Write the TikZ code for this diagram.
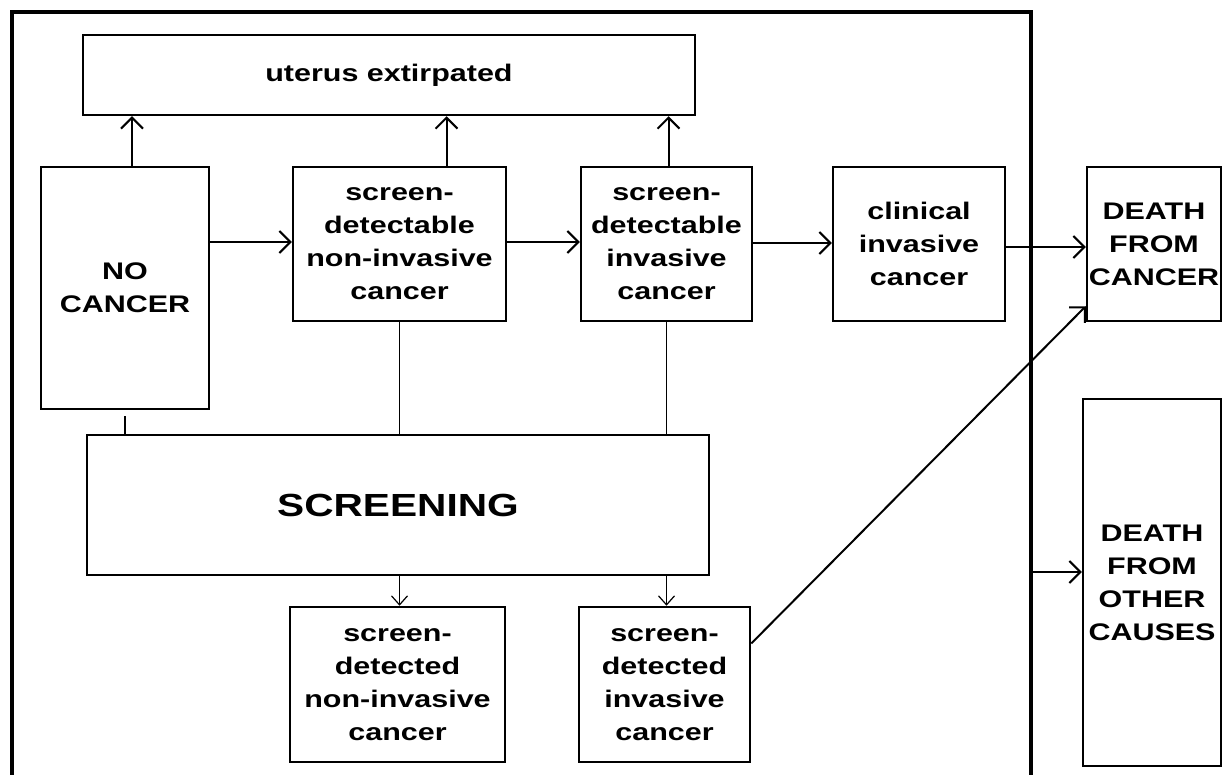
\documentclass[tikz,border=0pt]{standalone}
\usepackage{fontspec}
\newfontfamily\boxfont{Liberation Sans}[UprightFont=* Bold, FakeStretch=1.27]
\usetikzlibrary{arrows.meta}
\begin{document}
\begin{tikzpicture}[x=1pt,y=-1pt,
  box/.style={draw, line width=2.5pt, rectangle, inner sep=0pt, align=center,
    font=\boxfont\fontsize{24}{33}\selectfont},
  arr/.style={line width=2pt, -{Straight Barb[length=11pt,width=22pt,line width=2pt]}},
  thinarr/.style={line width=1.2pt, -{Straight Barb[length=9pt,width=16pt,line width=1.2pt]}},
  thinline/.style={line width=1.2pt},
  frame/.style={line width=4pt}]
\useasboundingbox (0,0) rectangle (1223,775);

\node[box, minimum width=612pt, minimum height=80pt] (ut) at (389,75) {uterus extirpated};
\node[box, minimum width=168pt, minimum height=242pt] (nc) at (125,288) {NO\\CANCER};
\node[box, minimum width=213pt, minimum height=154pt] (sdn) at (399.5,244) {screen-\\detectable\\non-invasive\\cancer};
\node[box, minimum width=171pt, minimum height=154pt] (sdv) at (666.5,244) {screen-\\detectable\\invasive\\cancer};
\node[box, minimum width=172pt, minimum height=154pt] (cl) at (919,244) {clinical\\invasive\\cancer};
\node[box, minimum width=134pt, minimum height=154pt] (dc) at (1154,244) {DEATH\\FROM\\CANCER};
\node[box, minimum width=138pt, minimum height=367pt] (do) at (1152,582.5) {DEATH\\FROM\\OTHER\\CAUSES};
\node[box, line width=1.5pt, minimum width=622pt, minimum height=140pt,
  font=\boxfont\fontsize{32}{40}\selectfont] (scr) at (398,505) {SCREENING};
\node[box, minimum width=215pt, minimum height=155pt] (sdd) at (397.5,684.5) {screen-\\detected\\non-invasive\\cancer};
\node[box, minimum width=171pt, minimum height=155pt] (sdi) at (664.5,684.5) {screen-\\detected\\invasive\\cancer};

% outer frame (open at the bottom)
\draw[frame] (12,775) -- (12,12) -- (1031,12) -- (1031,775);
\coordinate (fr) at (1031,572);

% upward arrows to uterus extirpated
\draw[arr] ([xshift=7pt]nc.north) -- ([xshift=7pt]nc.north |- ut.south);
\draw[arr] ([xshift=47pt]sdn.north) -- ([xshift=47pt]sdn.north |- ut.south);
\draw[arr] ([xshift=2pt]sdv.north) -- ([xshift=2pt]sdv.north |- ut.south);

% horizontal progression
\draw[arr] ([yshift=2pt]nc.east |- sdn.west) -- ([yshift=2pt]sdn.west);
\draw[arr] ([yshift=2pt]sdn.east) -- ([yshift=2pt]sdv.west);
\draw[arr] ([yshift=1pt]sdv.east) -- ([yshift=1pt]cl.west);
\draw[arr] ([yshift=-3pt]cl.east) -- ([yshift=-3pt]dc.west);

% links to screening
\draw[thinline] ([yshift=-6pt]nc.south) -- (nc.south |- scr.north);
\draw[thinline] (sdn.south) -- (sdn.south |- scr.north);
\draw[thinline] (sdv.south) -- (sdv.south |- scr.north);

% screening outcomes
\draw[thinarr] (sdn.south |- scr.south) -- (sdn.south |- sdd.north);
\draw[thinarr] (sdv.south |- scr.south) -- (sdv.south |- sdi.north);

% to death
\draw[arr] ([yshift=41pt]sdi.east) -- ([yshift=16pt]dc.south west);
\draw[arr] (fr) -- (do.west |- fr);
\end{tikzpicture}
\end{document}
